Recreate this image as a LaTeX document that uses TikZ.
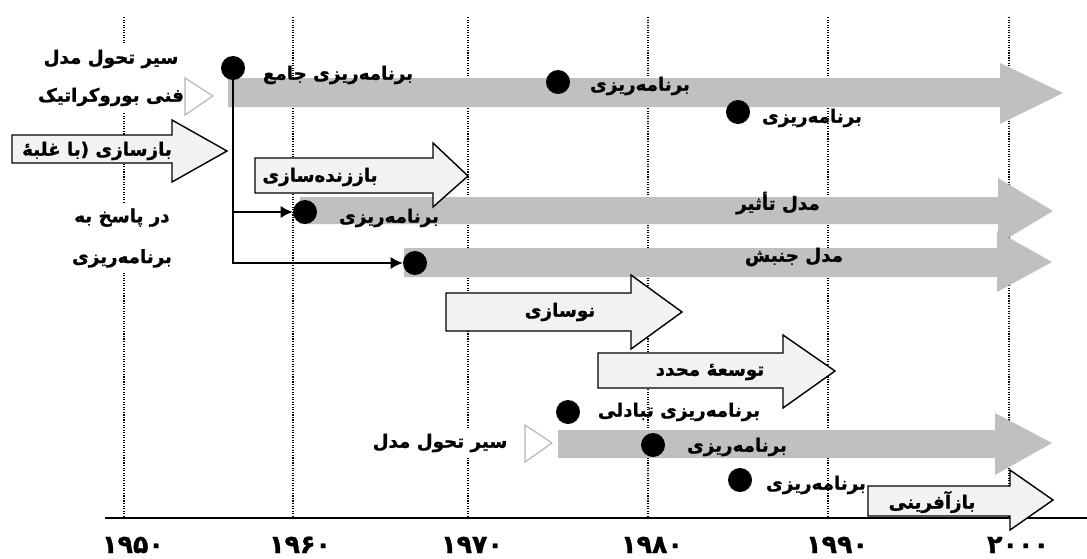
\documentclass[tikz,border=0pt]{standalone}
\usepackage{fontspec}
\usepackage{tikz}
\usetikzlibrary{shapes,arrows.meta}
\newfontfamily\farsi[Script=Arabic, BoldFeatures={FakeBold=1.2}]{DejaVu Sans}
\TeXXeTstate=1
\newcommand{\fa}[1]{\beginR #1\endR}
\tikzstyle{fatext} = [font=\farsi\bfseries\fontsize{13pt}{15pt}\selectfont, inner sep=1pt]
\tikzstyle{yeartext} = [font=\farsi\bfseries\fontsize{18pt}{20pt}\selectfont, inner sep=1pt]
\tikzstyle{band} = [fill=bandgray, draw=none]
\tikzstyle{blockarrow} = [fill=paper, draw=black, line width=1pt, line join=miter]
\tikzstyle{dot} = [circle, fill=black, minimum size=0.6cm, inner sep=0pt]
\tikzstyle{gridline} = [densely dotted, line width=0.8pt]
\tikzstyle{arrow} = [draw, -{Latex[length=0.3cm, width=0.3cm]}, line width=1pt]
\tikzstyle{marker} = [draw=markgray, fill=white, line width=0.8pt]
\definecolor{bandgray}{HTML}{C0C0C0}
\definecolor{paper}{HTML}{F2F2F2}
\definecolor{markgray}{HTML}{B4B4B4}

\begin{document}
\begin{tikzpicture}[x=0.025cm, y=-0.025cm]
\useasboundingbox (0,0) rectangle (1087,559);

%% time axis
\foreach \x in {124, 293, 468, 648, 828, 1009}
  \draw[gridline] (\x, 17) -- (\x, 518);
\draw[line width=2pt] (105,518) -- (1087,518);
\node[yeartext, anchor=base] at (133,553) (y1950) {۱۹۵۰};
\node[yeartext, anchor=base] at (300,553) (y1960) {۱۹۶۰};
\node[yeartext, anchor=base] at (472,553) (y1970) {۱۹۷۰};
\node[yeartext, anchor=base] at (652,553) (y1980) {۱۹۸۰};
\node[yeartext, anchor=base] at (837,553) (y1990) {۱۹۹۰};
\node[yeartext, anchor=base] at (1018,553) (y2000) {۲۰۰۰};

%% gray bands
\fill[band] (228,78) -- (1000,78) -- (1000,63) -- (1063,93) -- (1000,124) -- (1000,107) -- (228,107) -- cycle;
\fill[band] (300,197) -- (998,197) -- (998,178) -- (1053,211) -- (998,244) -- (998,224) -- (300,224) -- cycle;
\fill[band] (404,248) -- (997,248) -- (997,231) -- (1052,262) -- (997,292) -- (997,277) -- (404,277) -- cycle;
\fill[band] (558,430) -- (995,430) -- (995,413) -- (1052,443) -- (995,475) -- (995,458) -- (558,458) -- cycle;

%% left: bureaucratic model
\node[fatext, fill=white, align=center, inner sep=4pt] at (111,78) (bureau) {\fa{سیر تحول مدل}\\[12pt]\fa{فنی بوروکراتیک}};
\draw[marker] (185,78) -- (213,96) -- (185,115) -- cycle;
\draw[blockarrow] (12,135) -- (172,135) -- (172,120) -- (227,151) -- (172,182) -- (172,163) -- (12,163) -- cycle;
\node[fatext] at (97,151) (rebuild) {\fa{بازسازی (با غلبهٔ}};
\node[fatext, fill=white, align=center, inner sep=4pt] at (122,238) (response) {\fa{در پاسخ به}\\[14pt]\fa{برنامه‌ریزی}};

%% planning points
\node[dot] at (233,68) (d1) {};
\node[dot] at (305,212) (d2) {};
\node[dot] at (415,263) (d3) {};
\node[dot] at (558,82) (d4) {};
\node[dot] at (738,112) (d5) {};
\path[arrow] (d1) |- (d2);
\path[arrow] (d1) |- (d3);

\node[fatext] at (338,75) (compplan) {\fa{برنامه‌ریزی جامع}};
\node[fatext] at (640,86) (plan1) {\fa{برنامه‌ریزی}};
\node[fatext] at (812,118) (plan2) {\fa{برنامه‌ریزی}};
\node[fatext] at (389,218) (plan3) {\fa{برنامه‌ریزی}};
\node[fatext] at (778,203) (impact) {\fa{مدل تأثیر}};
\node[fatext] at (794,257) (movement) {\fa{مدل جنبش}};

%% block arrows
\draw[blockarrow] (255,158) -- (433,158) -- (433,143) -- (468,176) -- (433,207) -- (433,193) -- (255,193) -- cycle;
\node[fatext] at (320,177) (revital) {\fa{باززنده‌سازی}};
\draw[blockarrow] (446,293) -- (631,293) -- (631,275) -- (682,312) -- (631,349) -- (631,331) -- (446,331) -- cycle;
\node[fatext] at (560,312) (renew) {\fa{نوسازی}};
\draw[blockarrow] (598,353) -- (783,353) -- (783,335) -- (835,371) -- (783,408) -- (783,388) -- (598,388) -- cycle;
\node[fatext] at (710,372) (limited) {\fa{توسعهٔ محدد}};

%% bottom: second model
\node[fatext, fill=white, inner sep=4pt] at (440,443) (model2) {\fa{سیر تحول مدل}};
\draw[marker] (525,425) -- (552,443) -- (525,462) -- cycle;
\node[dot] at (568,412) (d6) {};
\node[dot] at (653,445) (d7) {};
\node[dot] at (740,480) (d8) {};
\node[fatext] at (679,412) (exchange) {\fa{برنامه‌ریزی تبادلی}};
\node[fatext] at (737,447) (plan4) {\fa{برنامه‌ریزی}};
\node[fatext] at (816,485) (plan5) {\fa{برنامه‌ریزی}};
\draw[blockarrow] (868,486) -- (1010,486) -- (1010,470) -- (1053,500) -- (1010,530) -- (1010,516) -- (868,516) -- cycle;
\node[fatext] at (932,502) (regen) {\fa{بازآفرینی}};

\end{tikzpicture}
\end{document}
